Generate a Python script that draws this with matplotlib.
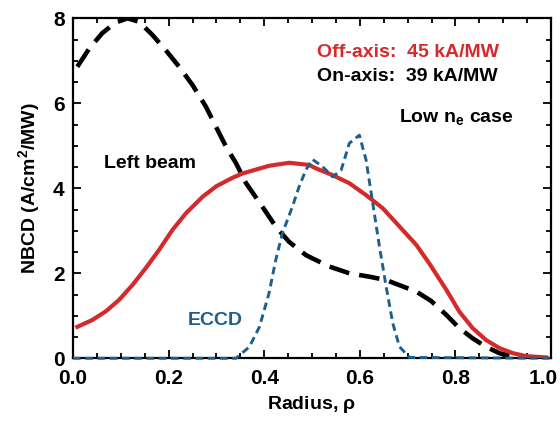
import matplotlib
matplotlib.use("Agg")
import matplotlib.pyplot as plt
from matplotlib.ticker import MultipleLocator
import matplotlib.transforms as mtransforms

plt.rcParams['font.family'] = ['Liberation Sans', 'DejaVu Sans']
plt.rcParams['font.weight'] = 'bold'
plt.rcParams['axes.labelweight'] = 'bold'
plt.rcParams['mathtext.fontset'] = 'custom'
plt.rcParams['mathtext.rm'] = 'Liberation Sans:bold'
plt.rcParams['mathtext.it'] = 'Liberation Sans:bold'
plt.rcParams['mathtext.bf'] = 'Liberation Sans:bold'

# Off-axis NBCD (red solid)
rho_off = [0.009, 0.04, 0.068, 0.096, 0.124, 0.152, 0.18, 0.208, 0.236, 0.271, 0.30, 0.334,
           0.355, 0.41, 0.452, 0.494, 0.508, 0.543, 0.578, 0.613, 0.648, 0.683, 0.718,
           0.746, 0.781, 0.808, 0.836, 0.864, 0.892, 0.92, 0.948, 0.99]
nbcd_off = [0.74, 0.90, 1.10, 1.37, 1.72, 2.12, 2.55, 3.02, 3.41, 3.80, 4.05, 4.25,
            4.35, 4.53, 4.60, 4.55, 4.47, 4.31, 4.12, 3.84, 3.53, 3.10, 2.67,
            2.22, 1.61, 1.10, 0.71, 0.43, 0.24, 0.12, 0.05, 0.02]

# On-axis NBCD (black dashed)
rho_on = [0.009, 0.034, 0.061, 0.089, 0.114, 0.138, 0.166, 0.194, 0.222, 0.25, 0.278, 0.299,
          0.32, 0.341, 0.362, 0.396, 0.424, 0.452, 0.487, 0.501, 0.536, 0.578, 0.62, 0.655,
          0.683, 0.718, 0.749, 0.781, 0.808, 0.836, 0.864, 0.892, 0.92, 0.96, 1.0]
nbcd_on = [6.86, 7.29, 7.65, 7.90, 8.00, 7.92, 7.61, 7.25, 6.86, 6.43, 5.92, 5.45,
           4.98, 4.59, 4.12, 3.57, 3.10, 2.74, 2.43, 2.35, 2.16, 2.00, 1.92, 1.84,
           1.72, 1.57, 1.35, 1.02, 0.71, 0.47, 0.27, 0.12, 0.04, 0.01, 0.0]

# ECCD (blue short dashes)
rho_ec = [0.0, 0.341, 0.369, 0.39, 0.41, 0.424, 0.438, 0.459, 0.473, 0.487, 0.501, 0.522,
          0.543, 0.561, 0.578, 0.599, 0.613, 0.627, 0.641, 0.655, 0.669, 0.683, 0.704, 1.0]
eccd = [0.0, 0.0, 0.27, 0.74, 1.53, 2.31, 2.94, 3.57, 4.04, 4.43, 4.68, 4.51,
        4.27, 4.43, 5.06, 5.25, 4.67, 3.65, 2.63, 1.69, 0.82, 0.27, 0.02, 0.0]

xticks = [0.0, 0.2, 0.4, 0.6, 0.8, 1.0]
yticks = [0, 2, 4, 6, 8]

fig = plt.figure(figsize=(5.6, 4.23), dpi=100)
ax = fig.add_axes([0.1304, 0.153, 0.8536, 0.8037])

ax.plot(rho_off, nbcd_off, color='#d42a2c', lw=3.0, solid_joinstyle='round', zorder=3)
ax.plot(rho_on, nbcd_on, color='black', lw=3.3, dashes=(4.5, 2.2), zorder=2)
ax.plot(rho_ec, eccd, color='#1f5f8b', lw=2.1, dashes=(2.6, 1.6), zorder=4, clip_on=False)

ax.set_xlim(0.0, 1.0)
ax.set_ylim(0, 8)
ax.set_xticks(xticks)
ax.set_xticklabels([f"{v:.1f}" for v in xticks])
ax.set_yticks(yticks)
ax.set_yticklabels([str(v) for v in yticks])
ax.xaxis.set_minor_locator(MultipleLocator(0.05))
ax.yaxis.set_minor_locator(MultipleLocator(0.5))
ax.tick_params(which='both', direction='in', top=True, right=True, width=1.3, labelsize=15)
ax.tick_params(which='major', length=6)
ax.tick_params(which='minor', length=3.5)
ax.tick_params(axis='x', pad=8)
ax.tick_params(axis='y', pad=6)
for s in ax.spines.values():
    s.set_linewidth(1.6)

# nudge last x tick label left so it stays inside the figure
last = ax.get_xticklabels()[-1]
last.set_transform(last.get_transform() + mtransforms.ScaledTranslation(-8/100, 0, fig.dpi_scale_trans))

ax.set_xlabel(r'Radius, $\rho$', fontsize=14, labelpad=4, fontweight='bold')
ax.set_ylabel(r'NBCD (A/cm$^2$/MW)', fontsize=14, labelpad=8, fontweight='bold')

ax.text(0.51, 0.9, 'Off-axis:  45 kA/MW', color='#d42a2c', fontsize=14, fontweight='bold',
        transform=ax.transAxes, va='center', ha='left')
ax.text(0.51, 0.83, 'On-axis:  39 kA/MW', color='black', fontsize=14, fontweight='bold',
        transform=ax.transAxes, va='center', ha='left')
ax.text(0.682, 0.71, r'Low n$_\mathrm{e}$ case', color='black', fontsize=14, fontweight='bold',
        transform=ax.transAxes, va='center', ha='left')
ax.text(0.065, 0.573, 'Left beam', color='black', fontsize=14, fontweight='bold',
        transform=ax.transAxes, va='center', ha='left')
ax.text(0.24, 0.11, 'ECCD', color='#1f5f8b', fontsize=14, fontweight='bold',
        transform=ax.transAxes, va='center', ha='left')

fig.savefig('out.png', dpi=100)
